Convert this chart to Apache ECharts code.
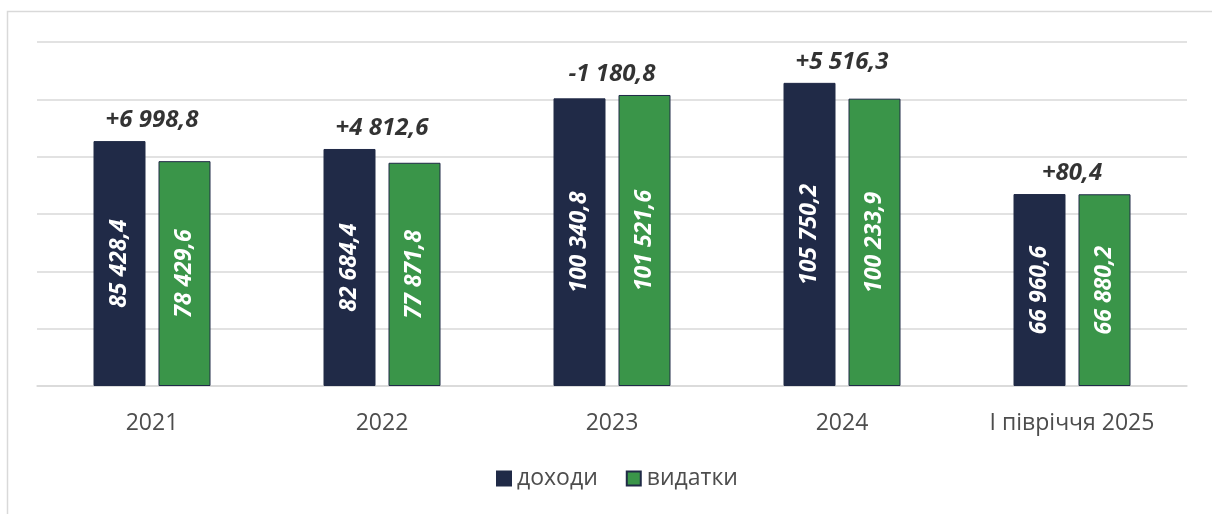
<!DOCTYPE html>
<html>
<head>
<meta charset="utf-8">
<script src="https://cdn.jsdelivr.net/npm/echarts@6/dist/echarts.min.js"></script>
<style>
  html, body { margin: 0; padding: 0; background: #fff; }
  #chart { width: 1212px; height: 514px; }
</style>
</head>
<body>
<div id="chart"></div>
<script>
const categories = ['2021', '2022', '2023', '2024', 'І півріччя 2025']
const income = [85428.4, 82684.4, 100340.8, 105750.2, 66960.6]
const expenses = [78429.6, 77871.8, 101521.6, 100233.9, 66880.2]
const balanceLabels = ['+6 998,8', '+4 812,6', '-1 180,8', '+5 516,3', '+80,4']

const fontFamily = '"Open Sans", sans-serif'

// 85428.4 -> "85 428,4"
const fmt = (v) => {
  const [int, dec] = v.toFixed(1).split('.')
  return int.replace(/\B(?=(\d{3})+(?!\d))/g, ' ') + ',' + dec
}

const insideLabel = {
  show: true,
  position: 'inside',
  rotate: 90,
  color: '#fff',
  fontFamily,
  fontSize: 23,
  fontWeight: 'bold',
  fontStyle: 'italic',
  formatter: (p) => fmt(p.value)
}

const chart = echarts.init(document.getElementById('chart'))

chart.setOption({
  animation: false,
  graphic: [{
    type: 'rect',
    shape: { x: 7.5, y: 11.5, width: 1400, height: 700 },
    style: { fill: 'none', stroke: '#d9d9d9', lineWidth: 1.5 },
    silent: true
  }],
  grid: { left: 37, right: 25, top: 42, bottom: 128 },
  legend: {
    bottom: 19,
    left: 491,
    itemWidth: 14,
    itemHeight: 14,
    itemGap: 28,
    icon: 'rect',
    textStyle: { fontFamily, fontSize: 23, color: '#4d4d4d', padding: [0, 0, 0, 1] },
    data: ['доходи', 'видатки']
  },
  xAxis: {
    type: 'category',
    data: categories,
    axisTick: { show: false },
    axisLine: { lineStyle: { color: '#d9d9d9', width: 1.5 } },
    axisLabel: { fontFamily, fontSize: 23, color: '#4d4d4d', margin: 26 }
  },
  yAxis: {
    type: 'value',
    min: 0,
    max: 120000,
    interval: 20000,
    axisLabel: { show: false },
    axisLine: { show: false },
    axisTick: { show: false },
    splitLine: { lineStyle: { color: '#d9d9d9', width: 1.5 } }
  },
  series: [
    {
      name: 'доходи',
      type: 'bar',
      data: income,
      barWidth: 52,
      barGap: '25%',
      itemStyle: { color: '#202a47', borderColor: '#202a47', borderWidth: 1 },
      label: insideLabel
    },
    {
      name: 'видатки',
      type: 'bar',
      data: expenses,
      barWidth: 52,
      itemStyle: { color: '#3a9549', borderColor: '#202a47', borderWidth: 1 },
      label: insideLabel
    },
    {
      name: 'сальдо',
      type: 'scatter',
      data: income.map((v, i) => Math.max(v, expenses[i])),
      symbolSize: 0,
      silent: true,
      label: {
        show: true,
        position: 'top',
        distance: 9,
        color: '#000',
        fontFamily,
        fontSize: 24,
        fontWeight: 'bold',
        fontStyle: 'italic',
        formatter: (p) => balanceLabels[p.dataIndex]
      }
    }
  ]
})
</script>
</body>
</html>
